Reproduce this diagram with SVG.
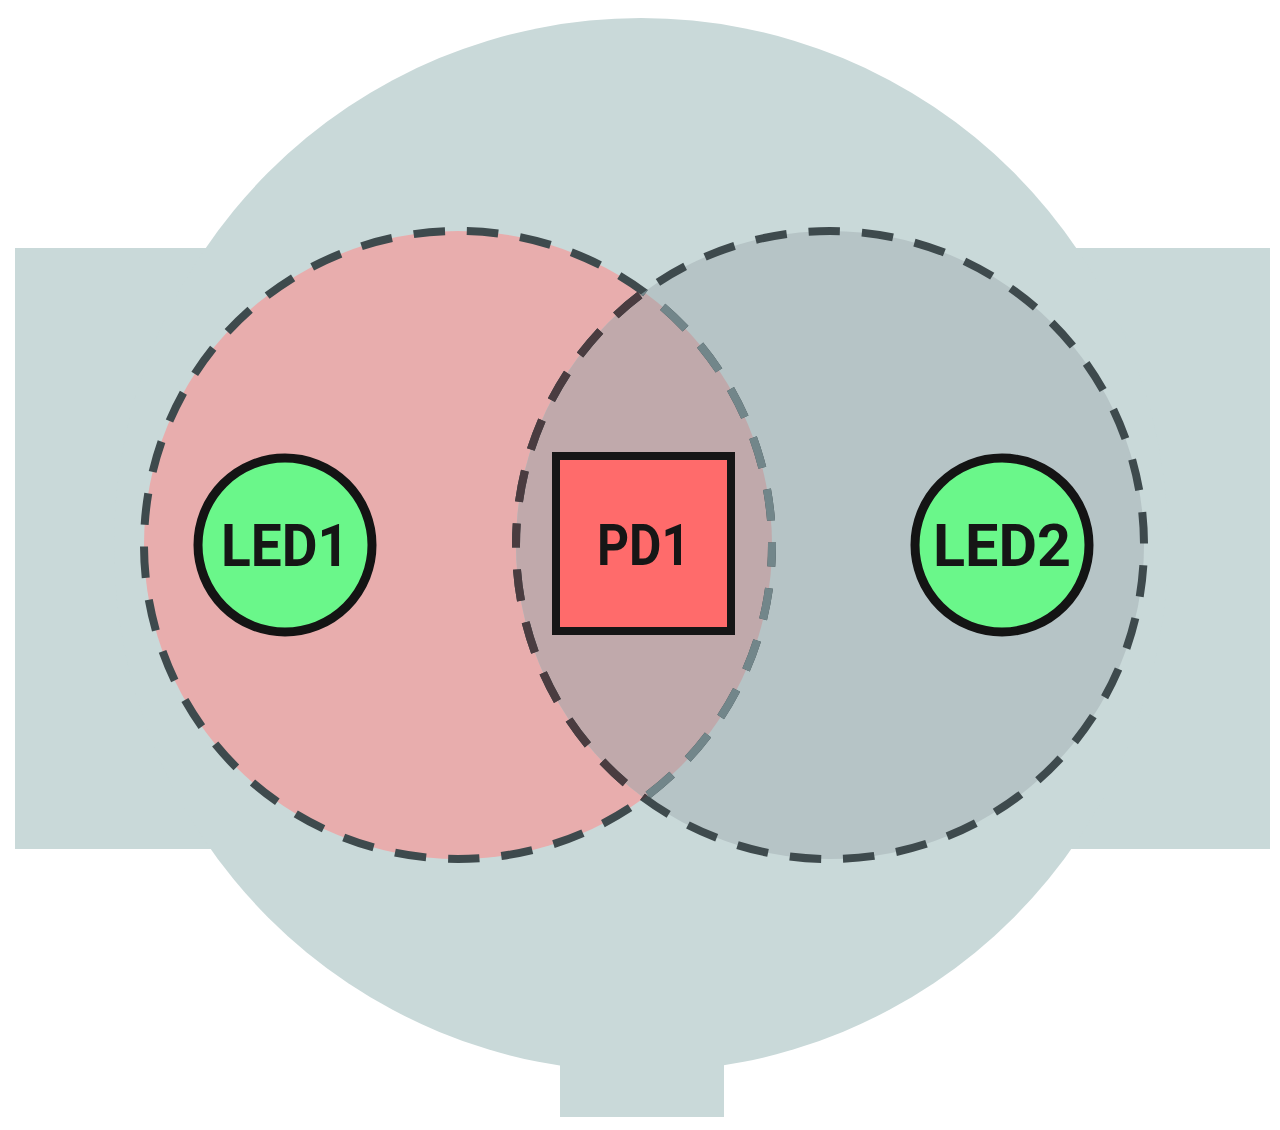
<svg xmlns="http://www.w3.org/2000/svg" width="1280" height="1130" viewBox="0 0 1280 1130">
  <defs>
    <clipPath id="clipL"><circle cx="458" cy="545" r="314"/></clipPath>
    <clipPath id="clipR"><circle cx="830" cy="545" r="314"/></clipPath>
    <style>
      .dash { fill: none; stroke-width: 8; stroke-dasharray: 31.5 22; }
      .led { fill: #6af78a; stroke: #141414; stroke-width: 9; }
      .label { font-family: Roboto, "Liberation Sans", sans-serif; font-weight: 700; fill: #161616; text-anchor: middle; }
    </style>
  </defs>
  <rect width="1280" height="1130" fill="#ffffff"/>
  <g id="housing">
    <rect x="15" y="248" width="1255" height="601" fill="#c9d9d9"/>
    <circle cx="641" cy="545" r="527" fill="#c9d9d9"/>
    <rect x="560" y="1000" width="164" height="117" fill="#c9d9d9"/>
  </g>
  <g id="zones">
    <circle id="zoneL" cx="458" cy="545" r="314" fill="#e8adad"/>
    <circle id="zoneR" cx="830" cy="545" r="314" fill="#b6c4c6"/>
    <circle cx="458" cy="545" r="314" fill="#c0a9ab" clip-path="url(#clipR)"/>
  </g>
  <g id="zone-outlines">
    <circle class="dash" cx="458" cy="545" r="314" stroke="#3e4a4d" stroke-dashoffset="10"/>
    <circle class="dash" cx="458" cy="545" r="314" stroke="#72868a" stroke-dashoffset="10" clip-path="url(#clipR)"/>
    <circle class="dash" cx="830" cy="545" r="314" stroke="#3e4a4d" stroke-dashoffset="10" transform="rotate(180 830 545)"/>
    <g clip-path="url(#clipL)">
      <circle class="dash" cx="830" cy="545" r="314" stroke="#4a3c40" stroke-dashoffset="10" transform="rotate(180 830 545)"/>
    </g>
  </g>
  <g id="LED1">
    <circle class="led" cx="285" cy="545" r="87"/>
    <text class="label" x="285" y="566" font-size="59" textLength="128" lengthAdjust="spacingAndGlyphs">LED1</text>
  </g>
  <g id="PD1">
    <rect x="556" y="456" width="175" height="175" fill="#ff6b6b" stroke="#161616" stroke-width="8"/>
    <text class="label" x="643.5" y="565" font-size="57" textLength="93" lengthAdjust="spacingAndGlyphs">PD1</text>
  </g>
  <g id="LED2">
    <circle class="led" cx="1002" cy="545" r="87"/>
    <text class="label" x="1002" y="566" font-size="59" textLength="138" lengthAdjust="spacingAndGlyphs">LED2</text>
  </g>
</svg>
